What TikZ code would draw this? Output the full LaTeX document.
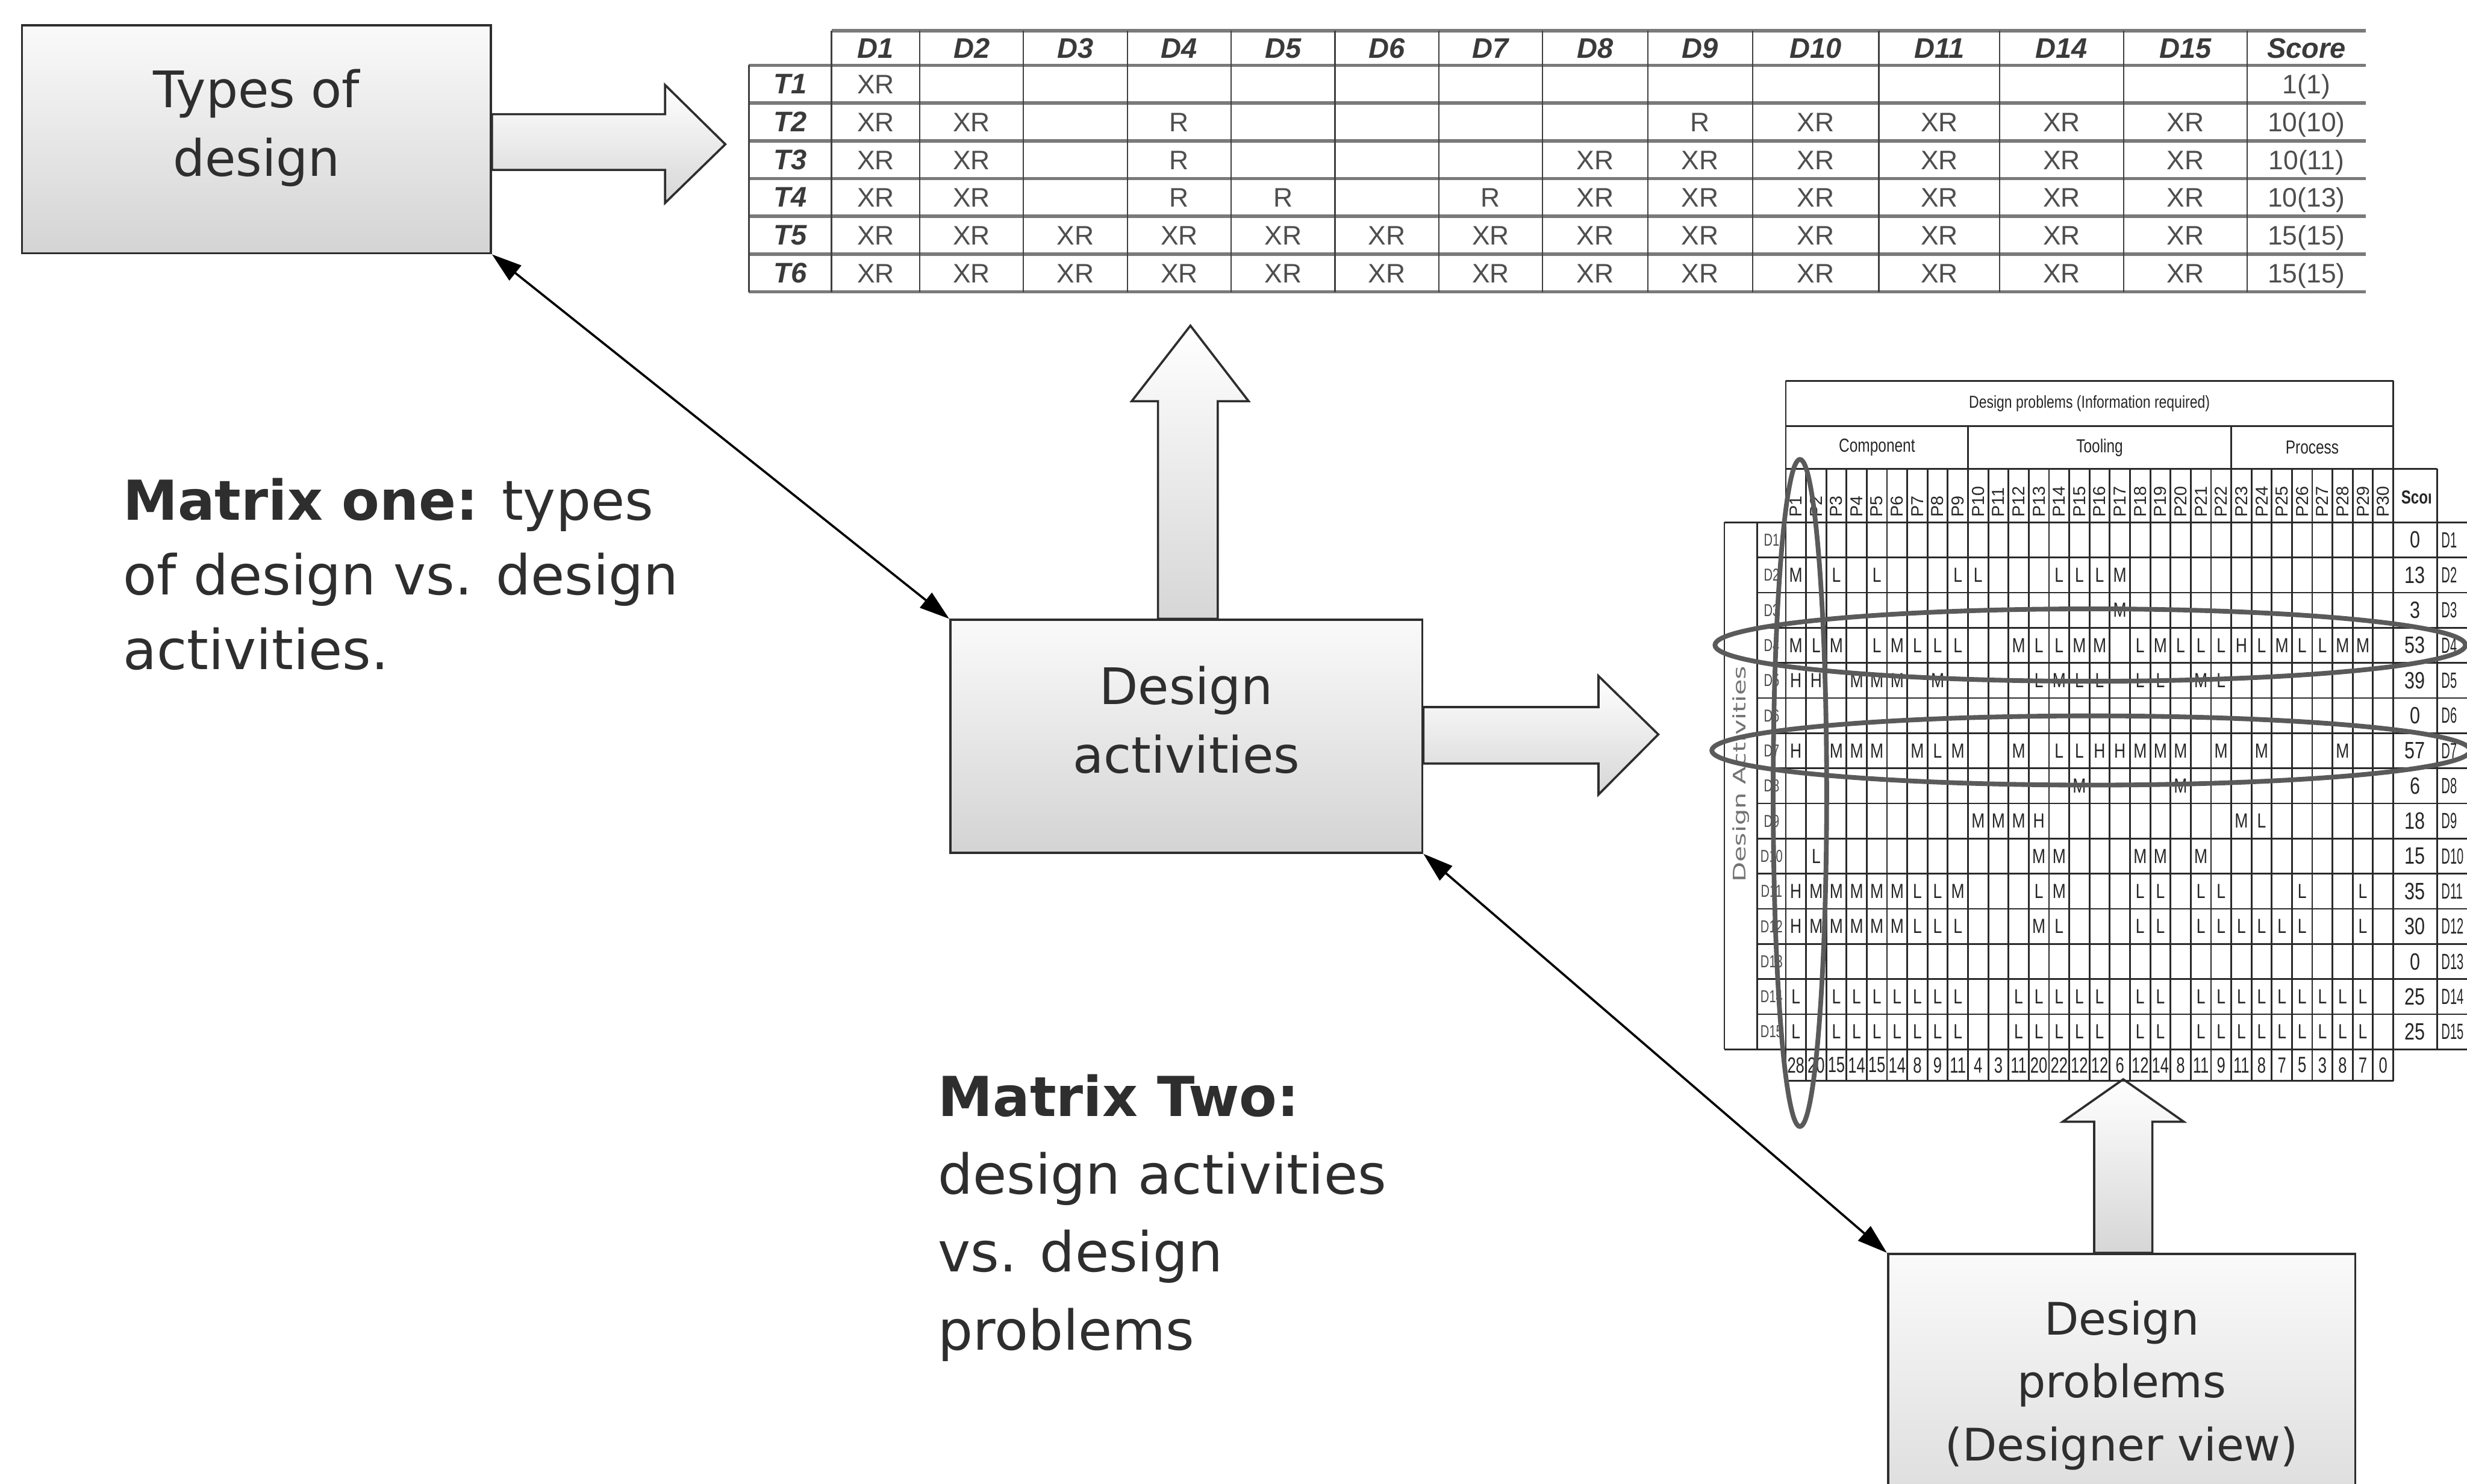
\documentclass[tikz,border=0pt]{standalone}
\usepackage{fontspec}
\setmainfont{DejaVu Sans}
\newfontfamily\arialf{Liberation Sans}
\usepackage{graphicx}
\usetikzlibrary{arrows.meta}
\definecolor{ink}{HTML}{2E2E2E}
\definecolor{tabline}{HTML}{7A7A7A}
\definecolor{tabtxt}{HTML}{4E4E4E}
\definecolor{tabhead}{HTML}{3A3A3A}
\definecolor{ellc}{HTML}{5A5A5A}
\definecolor{mgridc}{HTML}{2A2A2A}
\newcommand\narw[1]{\scalebox{0.78}[1]{#1}}
\newcommand\toprowcells[2]{\foreach \c/\v in {#2} \node[tcell] (t-#1-\c) at (tc\c |- tr#1) {\v};}
\newcommand\mxrowcells[2]{\foreach \c/\v in {#2} \node[mcell] (m-#1-\c) at ({1135+(\c-0.5)*12.87},{332+(#1-0.5)*22.333}) {\narw{\v}};}
\begin{document}
\begin{tikzpicture}[x=1pt,y=-1pt,line join=miter,
  box/.style={draw=ink, line width=1.4pt, top color=black!2, bottom color=black!17, inner sep=0pt},
  boxtxt/.style={text=ink, align=center, inner sep=0pt},
  blockarr/.style={draw=ink, line width=1.4pt, top color=white, bottom color=black!16},
  link/.style={line width=1.4pt, draw=black, {Triangle[length=19pt,width=12pt]}-{Triangle[length=19pt,width=12pt]}},
  thline/.style={draw=tabline, line width=2.2pt},
  tvline/.style={draw=black!75, line width=0.9pt},
  thead/.style={anchor=base, inner sep=0pt, text=tabhead, font=\arialf\bfseries\itshape\fontsize{18}{20}\selectfont},
  tcell/.style={anchor=base, inner sep=0pt, text=tabtxt, font=\arialf\fontsize{17}{19}\selectfont},
  mgrid/.style={draw=mgridc, line width=1.1pt},
  mcell/.style={inner sep=0pt, text=black!85, font=\arialf\fontsize{13}{14}\selectfont},
  mnum/.style={inner sep=0pt, text=black!85, font=\arialf\fontsize{15}{16}\selectfont},
  mhead/.style={inner sep=0pt, text=black!85, font=\arialf\fontsize{11}{12}\selectfont},
  ell/.style={draw=ellc, line width=3pt},
  mattxt/.style={text=ink, align=left, inner sep=0pt, anchor=west}
]
\useasboundingbox (0,0) rectangle (1568,943);
\fill[white] (0,0) rectangle (1568,943);
\clip (0,0) rectangle (1568,943);

% ---------------- boxes ----------------
\node[box, minimum width=298pt, minimum height=145pt] (types) at (163,88.5) {};
\node[boxtxt, font=\fontsize{32}{43.5}\selectfont] (typestxt) at (163,81.4) {Types of\\design};
\node[box, minimum width=300pt, minimum height=148pt] (act) at (754,468) {};
\node[boxtxt, font=\fontsize{32}{43.5}\selectfont] (acttxt) at (754,457.6) {Design\\activities};
\node[box, minimum width=297pt, minimum height=210pt] (prob) at (1348.5,902) {};
\node[boxtxt, font=\fontsize{28.5}{40}\selectfont] (probtxt) at (1348.5,880.5) {Design\\problems\\(Designer view)};

% ---------------- block arrows ----------------
\draw[blockarr] (types.east |- 0,72.6) -- (422.7,72.6) -- (422.7,54) -- (461,91.7) -- (422.7,129) -- (422.7,108) -- (types.east |- 0,108) -- cycle;
\draw[blockarr] (736,0 |- act.north) -- (736,255) -- (719.3,255) -- (756.6,207) -- (793.6,255) -- (774,255) -- (774,0 |- act.north) -- cycle;
\draw[blockarr] (act.east |- 0,449.4) -- (1016,449.4) -- (1016,429.7) -- (1054,466.8) -- (1016,505) -- (1016,485.3) -- (act.east |- 0,485.3) -- cycle;
\draw[blockarr] (1331,0 |- prob.north) -- (1331,713) -- (1311,713) -- (1349.5,686) -- (1388,713) -- (1368,713) -- (1368,0 |- prob.north) -- cycle;

% ---------------- thin double arrows ----------------
\draw[link] (types.south east) -- (act.north west);
\draw[link] (act.south east) -- (prob.north west);

% ---------------- annotations ----------------
\node[mattxt, font=\fontsize{35}{47.5}\selectfont] (m1txt) at (78,365) {\textbf{Matrix one:} types\\of design vs. design\\activities.};
\node[mattxt, font=\fontsize{35}{49.5}\selectfont] (m2txt) at (596,774) {\textbf{Matrix Two:}\\design activities\\vs. design\\problems};

% ---------------- top table ----------------
\foreach \c/\x in {0/502.25,1/556.55,2/617.55,3/683.5,4/749.5,5/815.5,6/881.5,7/947.45,8/1013.85,9/1080.6,10/1154.05,11/1232.6,12/1310.35,13/1389,14/1465.9}
  \coordinate (tc\c) at (\x,0);
\foreach \r/\y in {0/37,1/59.6,2/83.6,3/107.6,4/131.6,5/155.6,6/179.6}
  \coordinate (tr\r) at (0,\y);
\draw[thline] (528.5,19.5) -- (1503.5,19.5);
\foreach \y in {41.5,65.5,89.5,113.5,137.5,161.5,185.5} \draw[thline] (476,\y) -- (1503.5,\y);
\draw[tvline] (476,41.5) -- (476,185.5);
\foreach \x in {528.5,584.6,650.5,716.5,782.5,848.5,914.5,980.4,1047.3,1113.9,1194.2,1271,1349.7,1428.3}
  \draw[tvline] (\x,19.5) -- (\x,185.5);
\foreach \c/\t in {1/D1,2/D2,3/D3,4/D4,5/D5,6/D6,7/D7,8/D8,9/D9,10/D10,11/D11,12/D14,13/D15,14/Score}
  \node[thead] (th\c) at (tc\c |- tr0) {\t};
\foreach \r in {1,...,6} \node[thead] (tl\r) at (tc0 |- tr\r) {T\r};
\toprowcells{1}{1/XR,14/1(1)}
\toprowcells{2}{1/XR,2/XR,4/R,9/R,10/XR,11/XR,12/XR,13/XR,14/10(10)}
\toprowcells{3}{1/XR,2/XR,4/R,8/XR,9/XR,10/XR,11/XR,12/XR,13/XR,14/10(11)}
\toprowcells{4}{1/XR,2/XR,4/R,5/R,7/R,8/XR,9/XR,10/XR,11/XR,12/XR,13/XR,14/10(13)}
\toprowcells{5}{1/XR,2/XR,3/XR,4/XR,5/XR,6/XR,7/XR,8/XR,9/XR,10/XR,11/XR,12/XR,13/XR,14/15(15)}
\toprowcells{6}{1/XR,2/XR,3/XR,4/XR,5/XR,6/XR,7/XR,8/XR,9/XR,10/XR,11/XR,12/XR,13/XR,14/15(15)}

% ---------------- matrix two ----------------
\draw[mgrid] (1135,242) -- (1521.1,242);
\draw[mgrid] (1135,271) -- (1521.1,271);
\draw[mgrid] (1135,298) -- (1549,298);
\draw[mgrid] (1096,332) -- (1580,332);
\foreach \r in {1,...,14} \draw[mgrid] (1117,{332+\r*22.333}) -- (1580,{332+\r*22.333});
\draw[mgrid] (1096,667) -- (1580,667);
\draw[mgrid] (1135,687) -- (1521.1,687);
\draw[mgrid] (1096,332) -- (1096,667);
\draw[mgrid] (1117,332) -- (1117,667);
\draw[mgrid] (1135,242) -- (1135,687);
\foreach \k in {1,...,29} \draw[mgrid] ({1135+\k*12.87},298) -- ({1135+\k*12.87},687);
\draw[mgrid] (1250.83,271) -- (1250.83,298);
\draw[mgrid] (1418.14,271) -- (1418.14,298);
\draw[mgrid] (1521.1,242) -- (1521.1,687);
\draw[mgrid] (1549,298) -- (1549,667);

\node[mhead] (mtitle) at (1328,256.5) {\scalebox{0.8}[1]{Design problems (Information required)}};
\node[mhead, font=\arialf\fontsize{12}{13}\selectfont] (mcomp) at (1193,284.5) {\narw{Component}};
\node[mhead, font=\arialf\fontsize{12}{13}\selectfont] (mtool) at (1334.5,284.5) {\narw{Tooling}};
\node[mhead, font=\arialf\fontsize{12}{13}\selectfont] (mproc) at (1469.6,284.5) {\narw{Process}};
\foreach \k in {1,...,30}
  \node[mhead, rotate=90, anchor=west] (mp\k) at ({1135+(\k-0.5)*12.87},329) {P\k};
\begin{scope}
  \clip (1521.1,298) rectangle (1545,332);
  \node[mhead, anchor=west, font=\arialf\bfseries\fontsize{12}{13}\selectfont] (mscorehead) at (1526,316) {\scalebox{0.77}[1]{Score}};
\end{scope}
\node[inner sep=0pt, rotate=90, text=black!55, font=\fontsize{11}{12}\selectfont] (mdact) at (1106.5,492) {\scalebox{1.5}[1]{Design Activities}};
\foreach \r in {1,...,15}
  \node[mhead, text=black!70] (ml\r) at (1126,{332+(\r-0.5)*22.333}) {\scalebox{0.7}[1]{D\r}};
\foreach \s [count=\r] in {0,13,3,53,39,0,57,6,18,15,35,30,0,25,25}
  \node[mnum] (ms\r) at (1535,{332+(\r-0.5)*22.333}) {\narw{\s}};
\foreach \r in {1,...,15}
  \node[mnum, anchor=west, font=\arialf\fontsize{14}{15}\selectfont] (mr\r) at (1551.5,{332+(\r-0.5)*22.333}) {\scalebox{0.55}[1]{D\r}};
\foreach \n [count=\k] in {28,20,15,14,15,14,8,9,11,4,3,11,20,22,12,12,6,12,14,8,11,9,11,8,7,5,3,8,7,0}
  \node[mnum, font=\arialf\fontsize{14}{15}\selectfont] (msum\k) at ({1135+(\k-0.5)*12.87},677) {\scalebox{0.7}[1]{\n}};

\mxrowcells{2}{1/M,3/L,5/L,9/L,10/L,14/L,15/L,16/L,17/M}
\mxrowcells{3}{17/M}
\mxrowcells{4}{1/M,2/L,3/M,5/L,6/M,7/L,8/L,9/L,12/M,13/L,14/L,15/M,16/M,18/L,19/M,20/L,21/L,22/L,23/H,24/L,25/M,26/L,27/L,28/M,29/M}
\mxrowcells{5}{1/H,2/H,4/M,5/M,6/M,8/M,13/L,14/M,15/L,16/L,18/L,19/L,21/M,22/L}
\mxrowcells{7}{1/H,3/M,4/M,5/M,7/M,8/L,9/M,12/M,14/L,15/L,16/H,17/H,18/M,19/M,20/M,22/M,24/M,28/M}
\mxrowcells{8}{15/M,20/M}
\mxrowcells{9}{10/M,11/M,12/M,13/H,23/M,24/L}
\mxrowcells{10}{2/L,13/M,14/M,18/M,19/M,21/M}
\mxrowcells{11}{1/H,2/M,3/M,4/M,5/M,6/M,7/L,8/L,9/M,13/L,14/M,18/L,19/L,21/L,22/L,26/L,29/L}
\mxrowcells{12}{1/H,2/M,3/M,4/M,5/M,6/M,7/L,8/L,9/L,13/M,14/L,18/L,19/L,21/L,22/L,23/L,24/L,25/L,26/L,29/L}
\mxrowcells{14}{1/L,3/L,4/L,5/L,6/L,7/L,8/L,9/L,12/L,13/L,14/L,15/L,16/L,18/L,19/L,21/L,22/L,23/L,24/L,25/L,26/L,27/L,28/L,29/L}
\mxrowcells{15}{1/L,3/L,4/L,5/L,6/L,7/L,8/L,9/L,12/L,13/L,14/L,15/L,16/L,18/L,19/L,21/L,22/L,23/L,24/L,25/L,26/L,27/L,28/L,29/L}

\draw[ell] (1328.5,410) ellipse [x radius=238.5, y radius=23];
\draw[ell] (1329,477) ellipse [x radius=241, y radius=22];
\draw[ell] (1144,504) ellipse [x radius=17, y radius=212];
\end{tikzpicture}
\end{document}
